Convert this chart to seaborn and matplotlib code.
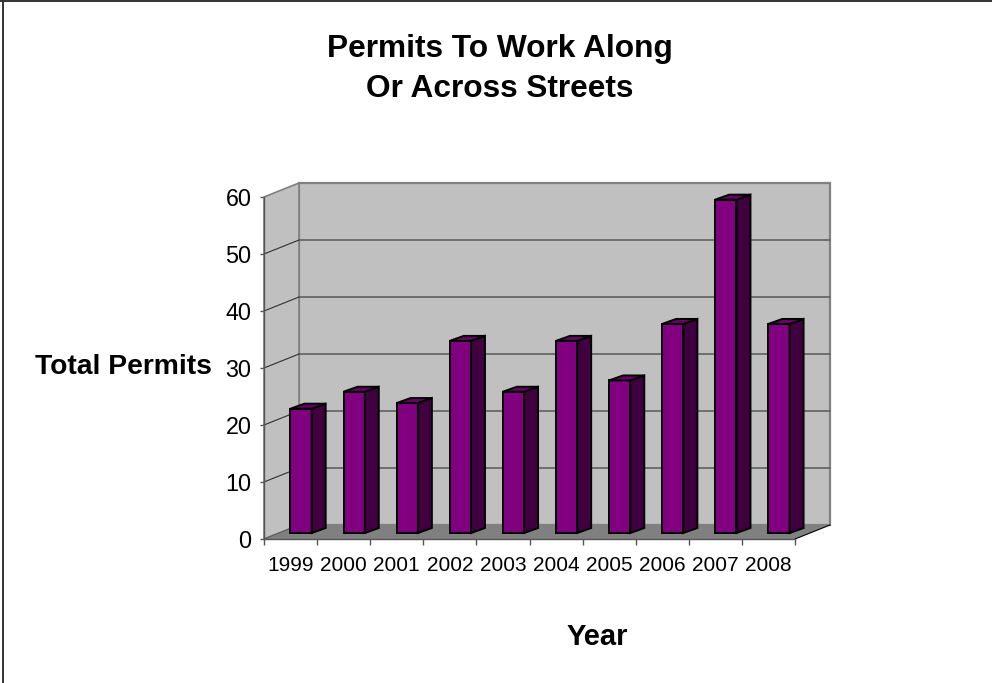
import matplotlib
matplotlib.use("Agg")
import matplotlib.pyplot as plt
from matplotlib.lines import Line2D
from matplotlib.patches import Polygon
from matplotlib.transforms import Affine2D
import pandas as pd
import seaborn as sns

years = ["1999", "2000", "2001", "2002", "2003", "2004", "2005", "2006", "2007", "2008"]
permits = [22, 25, 23, 34, 25, 34, 27, 37, 59, 37]
y_ticks = [0, 10, 20, 30, 40, 50, 60]
title = "Permits To Work Along\nOr Across Streets"
x_label = "Year"
y_label = "Total Permits"

W, H = 992, 683
sns.set_theme(style="white")
plt.rcParams["font.family"] = ["Liberation Sans", "DejaVu Sans"]
fig = plt.figure(figsize=(W / 100, H / 100), dpi=100, facecolor="white")

def rect(l, top, r, bottom):
    return [l / W, 1 - bottom / H, (r - l) / W, (bottom - top) / H]

# border: only the top and left edges show in the source
fig.add_artist(Line2D([2.8 / W, 2.8 / W], [0, 1], transform=fig.transFigure, color="#333333", lw=1.4))
fig.add_artist(Line2D([0, 1], [1 - 1.4 / H, 1 - 1.4 / H], transform=fig.transFigure, color="#333333", lw=1.4))

# front plane of the 3-D box
ax = fig.add_axes(rect(264, 197, 795, 539))
ax.set_xlim(-0.5, 9.5)
ax.set_ylim(0, 60)
ax.patch.set_visible(False)
for s in ["top", "right"]:
    ax.spines[s].set_visible(False)
for s in ["left", "bottom"]:
    ax.spines[s].set_color("#555555")
    ax.spines[s].set_linewidth(1.0)

to_back = ax.transData + Affine2D().translate(35, 14)
wall = "#C0C0C0"
ax.add_patch(Polygon([(-0.5, 0), (9.5, 0), (9.5, 60), (-0.5, 60)], closed=True, transform=to_back,
                     facecolor=wall, edgecolor="#808080", linewidth=1.6, zorder=1, clip_on=False))

# side wall and floor need mixed front/back corners
dx = 35 / 53.1
dy = 14 / 5.7
ax.add_patch(Polygon([(-0.5, 0), (-0.5, 60), (-0.5 + dx, 60 + dy), (-0.5 + dx, dy)], closed=True,
                     facecolor=wall, edgecolor="#808080", linewidth=1.2, zorder=1.5, clip_on=False))
ax.add_patch(Polygon([(-0.5, 0), (9.5, 0), (9.5 + dx, dy), (-0.5 + dx, dy)], closed=True,
                     facecolor="#808080", edgecolor="none", zorder=2, clip_on=False))
ax.plot([9.5, 9.5 + dx], [0, dy], color="black", lw=0.8, zorder=2.1, clip_on=False)
ax.plot([-0.5, -0.5 + dx], [0, dy], color="#606060", lw=0.8, zorder=2.1, clip_on=False)
for v in y_ticks[1:-1]:
    ax.plot([-0.5 + dx, 9.5 + dx], [v + dy, v + dy], color="#606060", lw=1.2, zorder=1.6, clip_on=False)
    ax.plot([-0.5, -0.5 + dx], [v, v + dy], color="#303030", lw=0.8, zorder=1.6, clip_on=False)

# ticks
ax.set_yticks(y_ticks)
ax.set_xticks([i - 0.5 for i in range(len(years) + 1)], [""] * (len(years) + 1))
ax.set_xticks(range(len(years)), years, minor=True)
ax.tick_params(axis="y", left=True, length=3, width=1, color="#555555", labelsize=16.8, pad=6, labelcolor="black")
ax.tick_params(axis="x", which="major", bottom=True, length=4, width=1, color="#555555")
ax.tick_params(axis="x", which="minor", bottom=False, length=0, labelsize=15, pad=12, labelcolor="black")
for lbl in ax.get_yticklabels():
    lbl.set_verticalalignment("center_baseline")

ax.set_title(title, x=(500 - 264) / 531, y=1.0, pad=72, fontsize=22.8, fontweight="bold", color="black", linespacing=1.44)
ax.set_xlabel(x_label, fontsize=21, fontweight="bold", color="black", va="center")
ax.xaxis.set_label_coords((597.5 - 264) / 531, (539 - 637) / 342, transform=ax.transAxes)
ax.set_ylabel(y_label, fontsize=20.3, fontweight="bold", color="black", rotation=0, ha="right", va="center")
ax.yaxis.set_label_coords((212 - 264) / 531, (539 - 367) / 342, transform=ax.transAxes)

# bars: their plane sits partway into the box
ax_b = fig.add_axes(rect(274.5, 194, 805.5, 533))
ax_b.patch.set_visible(False)
df = pd.DataFrame({"year": years, "permits": permits})
sns.barplot(data=df, x="year", y="permits", ax=ax_b, color="#800080", saturation=1, width=0.4,
            edgecolor="black", linewidth=1.4)
ax_b.set_xlim(-0.5, 9.5)
ax_b.set_ylim(0, 60)
ax_b.axis("off")

bar_dx = 14 / 53.1
bar_dy = 5 / 5.65
for p in list(ax_b.patches):
    x0, w, h = p.get_x(), p.get_width(), p.get_height()
    x1 = x0 + w
    p.set_clip_on(False)
    ax_b.add_patch(Polygon([(x1, 0), (x1, h), (x1 + bar_dx, h + bar_dy), (x1 + bar_dx, bar_dy)], closed=True,
                           facecolor="#400040", edgecolor="black", linewidth=1.4, clip_on=False, zorder=p.get_zorder()))
    ax_b.add_patch(Polygon([(x0, h), (x1, h), (x1 + bar_dx, h + bar_dy), (x0 + bar_dx, h + bar_dy)], closed=True,
                           facecolor="#660066", edgecolor="black", linewidth=1.4, clip_on=False, zorder=p.get_zorder()))

fig.savefig("out.png", dpi=100)
